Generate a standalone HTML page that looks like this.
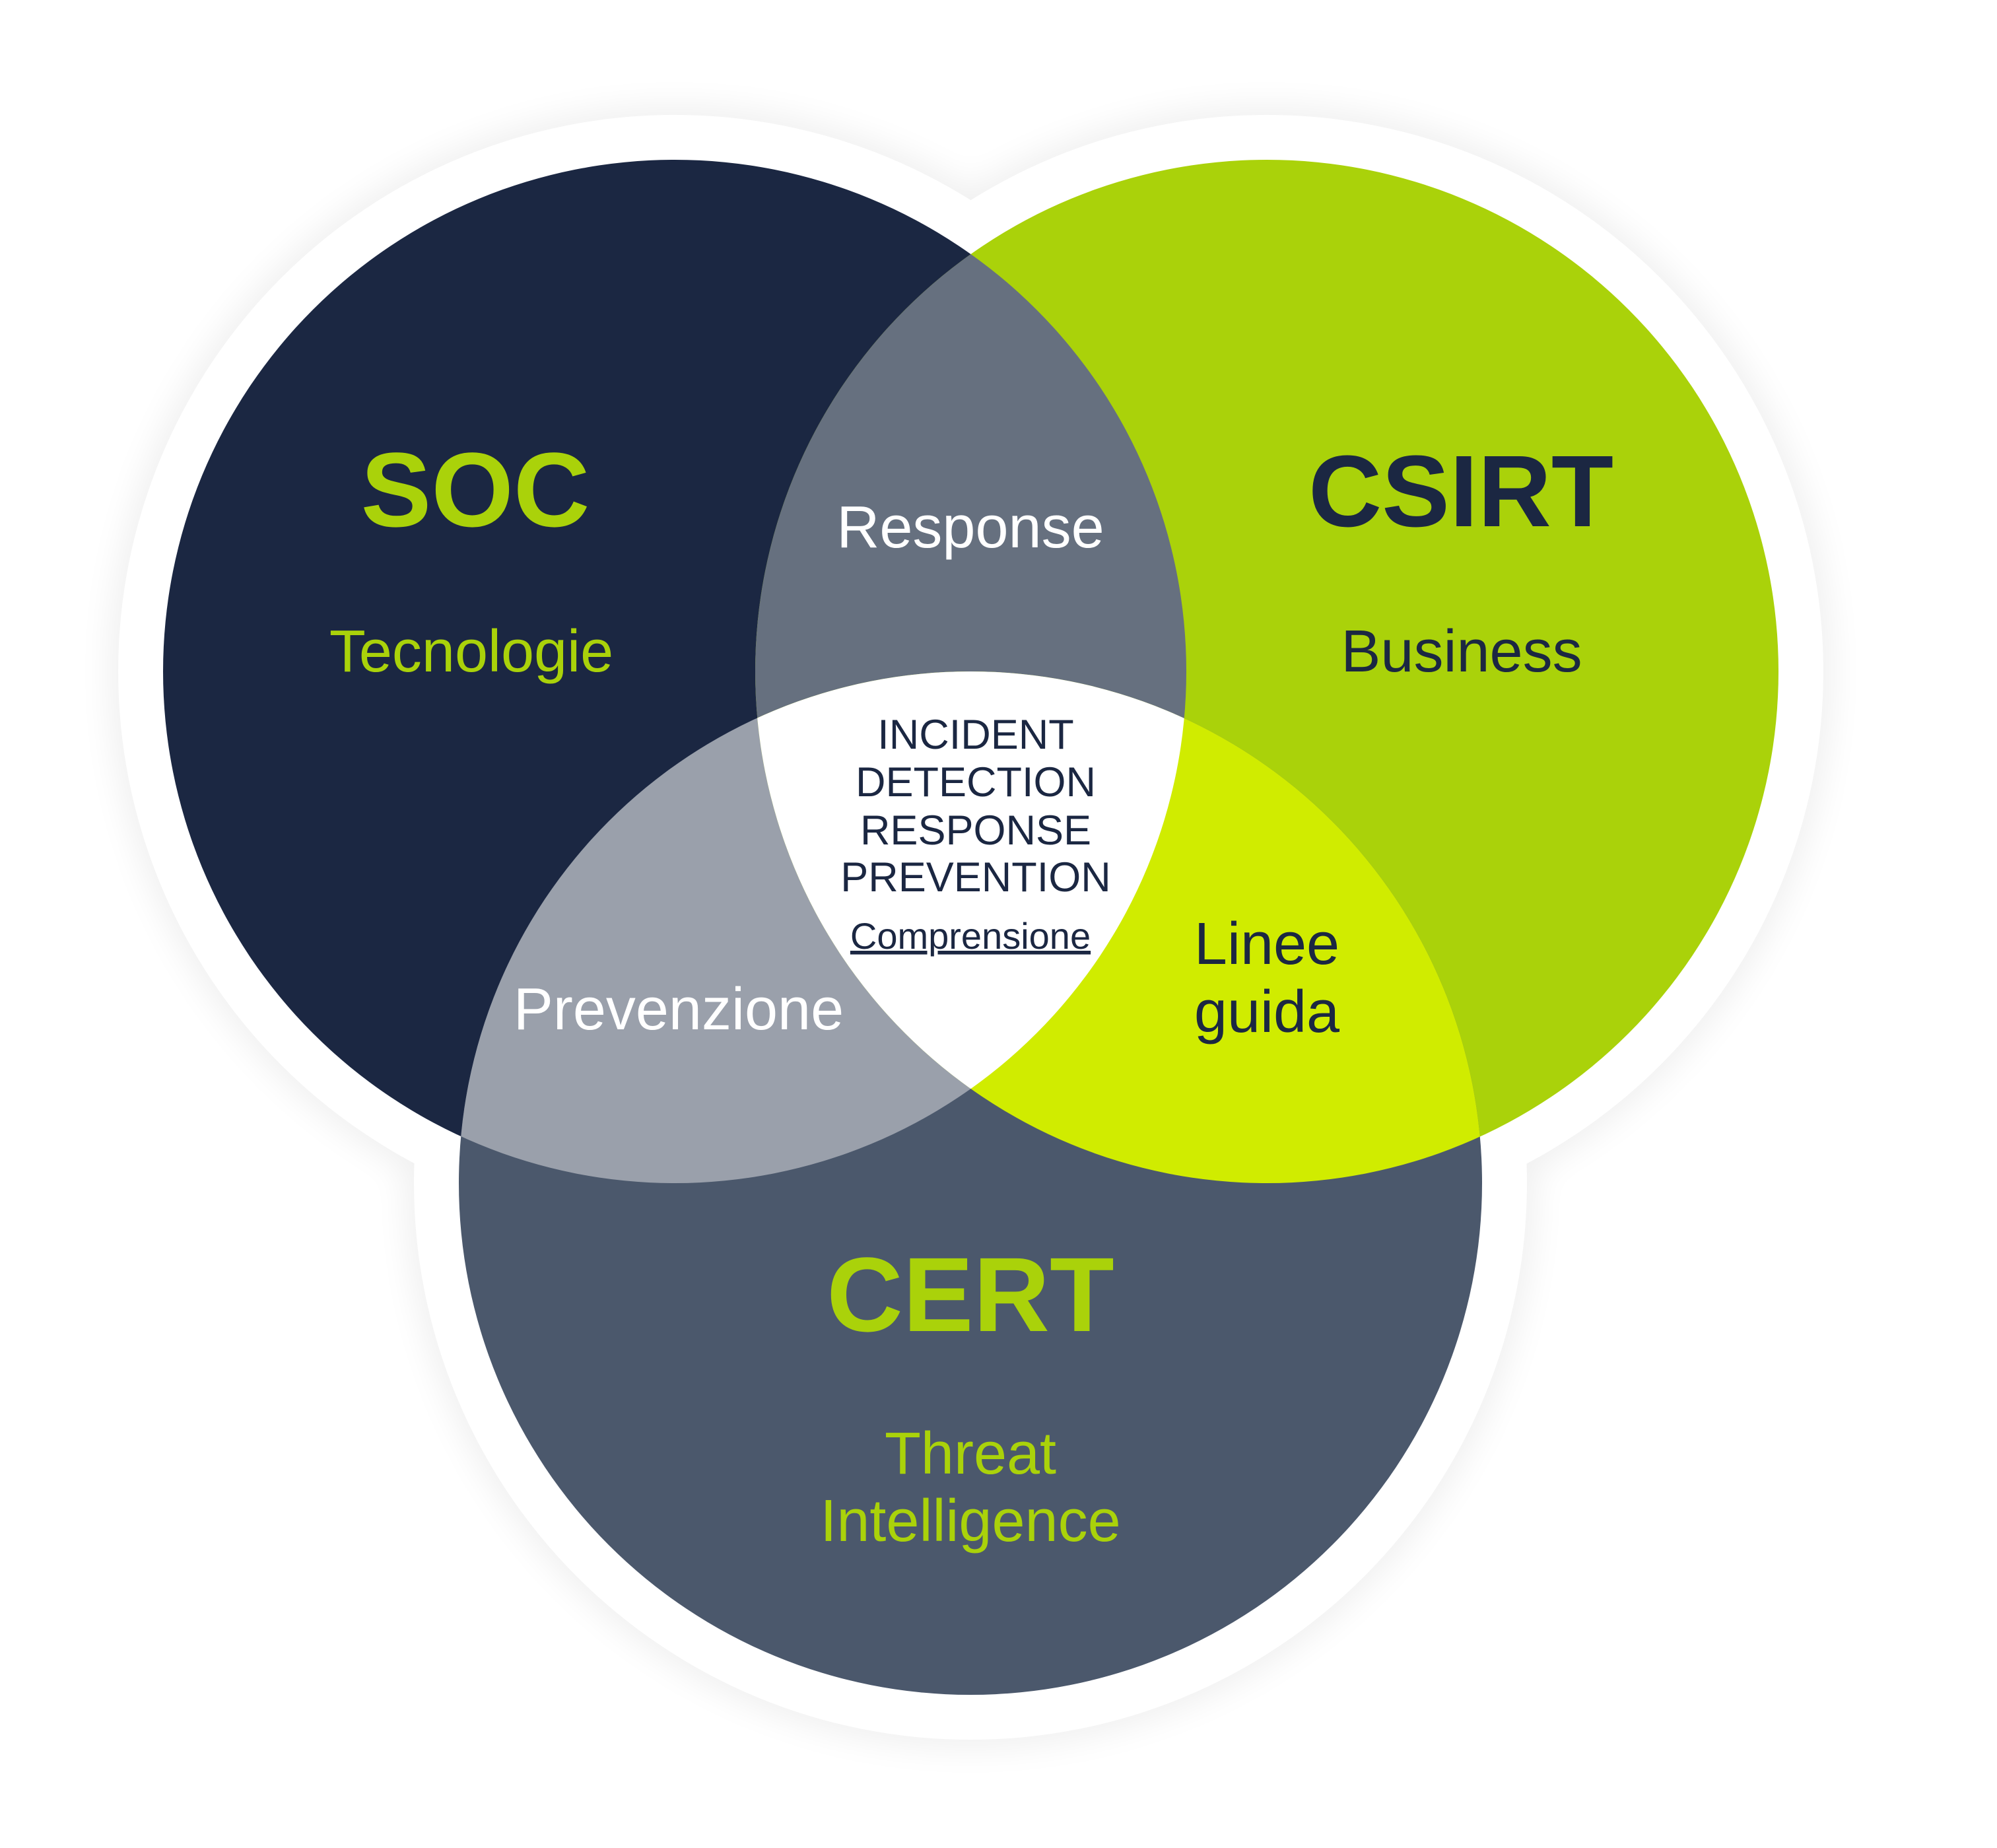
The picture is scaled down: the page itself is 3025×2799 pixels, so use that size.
<!DOCTYPE html>
<html><head><meta charset="utf-8"><style>
html,body{margin:0;padding:0;background:#fff;}
svg{display:block;}
text{font-family:"Liberation Sans",sans-serif;text-anchor:middle;}
</style></head><body>
<svg width="3025" height="2799" viewBox="0 0 3025 2799" xmlns="http://www.w3.org/2000/svg">
<defs>
<clipPath id="cs"><circle cx="1022" cy="1017" r="775"/></clipPath>
<clipPath id="cc"><circle cx="1919" cy="1017" r="775"/></clipPath>
<clipPath id="ce"><circle cx="1470" cy="1792" r="775"/></clipPath>
<filter id="sh" x="-20%" y="-20%" width="140%" height="140%"><feGaussianBlur stdDeviation="25"/></filter>
</defs>
<g fill="#000" opacity="0.06" filter="url(#sh)">
<circle cx="1022" cy="1017" r="856"/><circle cx="1919" cy="1017" r="856"/><circle cx="1470" cy="1792" r="856"/>
</g>
<g fill="#fff">
<circle cx="1022" cy="1017" r="843"/><circle cx="1919" cy="1017" r="843"/><circle cx="1470" cy="1792" r="843"/>
</g>
<circle cx="1022" cy="1017" r="775" fill="#1b2742"/>
<circle cx="1919" cy="1017" r="775" fill="#aad20a"/>
<circle cx="1470" cy="1792" r="775" fill="#4b586c"/>
<circle cx="1919" cy="1017" r="775" fill="#66707f" clip-path="url(#cs)"/>
<circle cx="1470" cy="1792" r="775" fill="#9aa0ab" clip-path="url(#cs)"/>
<circle cx="1470" cy="1792" r="775" fill="#d0ec00" clip-path="url(#cc)"/>
<g clip-path="url(#cs)"><circle cx="1919" cy="1017" r="775" fill="#fff" clip-path="url(#ce)"/></g>

<text x="720" y="797" font-size="160" font-weight="bold" fill="#aad20a">SOC</text>
<text x="714" y="1017" font-size="90" fill="#aad20a">Tecnologie</text>
<text x="2213" y="797" font-size="154" font-weight="bold" fill="#1b2742">CSIRT</text>
<text x="2214" y="1017" font-size="90" fill="#1b2742">Business</text>
<text x="1470" y="829" font-size="90" fill="#fff">Response</text>
<g font-size="63" fill="#1b2742">
<text x="1478" y="1134">INCIDENT</text>
<text x="1478" y="1206">DETECTION</text>
<text x="1478" y="1279">RESPONSE</text>
<text x="1478" y="1350">PREVENTION</text>
</g>
<text x="1470" y="1437" font-size="56" fill="#1b2742" text-decoration="underline">Comprensione</text>
<text x="1919" y="1460" font-size="90" fill="#1b2742">Linee</text>
<text x="1919" y="1563" font-size="90" fill="#1b2742">guida</text>
<text x="1028" y="1559" font-size="90" fill="#fff">Prevenzione</text>
<text x="1470" y="2016" font-size="160" font-weight="bold" fill="#aad20a">CERT</text>
<text x="1470" y="2232" font-size="90" fill="#aad20a">Threat</text>
<text x="1470" y="2334" font-size="90" fill="#aad20a">Intelligence</text>
</svg>
</body></html>
